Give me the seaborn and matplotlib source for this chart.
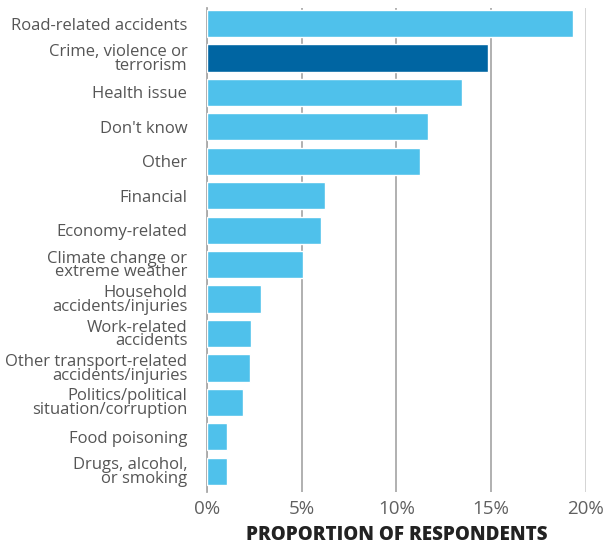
import matplotlib
matplotlib.use("Agg")
import matplotlib.pyplot as plt
import pandas as pd
import seaborn as sns

# categories top to bottom, values in percent
categories = ['Road-related accidents', 'Crime, violence or\nterrorism', 'Health issue',
              "Don't know", 'Other', 'Financial', 'Economy-related',
              'Climate change or\nextreme weather', 'Household\naccidents/injuries',
              'Work-related\naccidents', 'Other transport-related\naccidents/injuries',
              'Politics/political\nsituation/corruption', 'Food poisoning',
              'Drugs, alcohol,\nor smoking']
values = [19.32, 14.84, 13.47, 11.67, 11.25, 6.24, 6.03, 5.08, 2.86, 2.34, 2.28, 1.91, 1.07, 1.07]
highlight = 'Crime, violence or\nterrorism'

df = pd.DataFrame({'category': categories, 'value': values})
df['group'] = ['dark' if c == highlight else 'light' for c in df['category']]

sns.set_theme(style='white')
plt.rcParams['font.family'] = ['Open Sans', 'DejaVu Sans']

fig = plt.figure(figsize=(6.09, 5.47), dpi=100)
ax = fig.add_axes([206.7 / 609, 1 - 492 / 547, (586 - 206.7) / 609, 484 / 547])

sns.barplot(data=df, x='value', y='category', hue='group', order=categories,
            palette={'light': '#4FC1EB', 'dark': '#0065A2'}, dodge=False,
            width=0.79, legend=False, ax=ax, zorder=3, saturation=1)

ax.set_xlim(0, 20)
ax.set_ylim(13.6, -0.45)
ax.set_xticks([0, 5, 10, 15, 20])
ax.set_xticklabels(['0%', '5%', '10%', '15%', '20%'])
ax.grid(axis='x', color='#aaaaaa', linewidth=1.3, zorder=0)
ax.grid(axis='y', visible=False)
for s in ['top', 'right', 'bottom']:
    ax.spines[s].set_visible(False)
ax.spines['left'].set_color('#aaaaaa')
ax.spines['left'].set_linewidth(1.3)
ax.get_xgridlines()[-1].set_color('#d0d0d0')
ax.get_xgridlines()[-1].set_linewidth(2)

ax.tick_params(axis='x', length=0, pad=6, labelsize=13.5, labelcolor='#606060')
ax.tick_params(axis='y', length=0, pad=14, labelsize=12, labelcolor='#555555')
for lbl in ax.get_yticklabels():
    lbl.set_linespacing(0.8)

ax.set_ylabel('')
ax.set_xlabel('PROPORTION OF RESPONDENTS', fontsize=13.5, fontweight='heavy',
              color='#222222', labelpad=5)

fig.savefig('out.png', dpi=100)
